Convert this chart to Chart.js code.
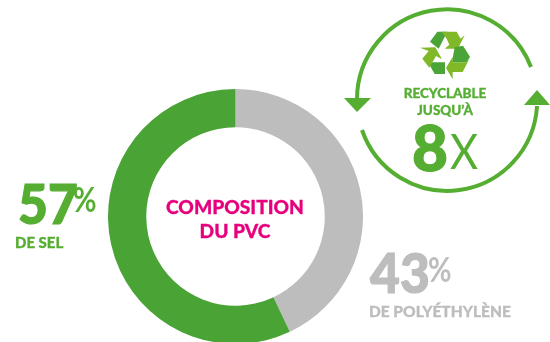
<!DOCTYPE html>
<html>
<head>
<meta charset="utf-8">
<script src="https://cdn.jsdelivr.net/npm/chart.js@4"></script>
<style>
  html, body { margin: 0; padding: 0; background: #fff; }
  #page { position: relative; width: 550px; height: 342px; overflow: hidden; font-family: Lato, sans-serif; }
  #donut { position: absolute; left: 108px; top: 89px; width: 255px; height: 255px; }
  #ring { position: absolute; left: 0; top: 0; }
  .txt { position: absolute; white-space: nowrap; line-height: 1; font-weight: 900; transform-origin: left top; }
  .heavy { -webkit-text-stroke: 1.2px currentColor; }
  .semi { -webkit-text-stroke: 0.3px currentColor; }
  .green { color: #55ae32; }
  .grey { color: #bcbdbc; }
  .pink { color: #e6007e; }
</style>
</head>
<body>
<div id="page">
  <div id="donut"><canvas id="pvcChart" width="255" height="255"></canvas></div>

  <!-- anneau et logo recyclage -->
  <svg id="ring" width="550" height="342">
    <g fill="none" stroke="#55ae32" stroke-width="4">
      <path d="M357 99 A90 90 0 0 1 531 67"/>
      <path d="M537 106 A90 90 0 0 1 362 130"/>
    </g>
    <polygon points="344,98 371,98 357,112" fill="#55ae32"/>
    <polygon points="524,105 550,105 537,90" fill="#55ae32"/>
    <g transform="translate(340 0) scale(0.3333)">
      <path d="M270 125 L292 95 L322 95 L296 146 Z" fill="#4aa437"/>
      <path d="M305 95 L350 95 L362 116 L374 105 L354 146 L314 146 L328 134 L320 116 Z" fill="#80b828"/>
      <path d="M344 142 L369 137 L390 170 L380 187 L336 187 Z" fill="#4aa437"/>
      <path d="M390 173 L368 216 L338 216 L338 238 L318 204 L338 170 L338 187 L380 187 Z" fill="#80b828"/>
      <path d="M264 187 L315 187 L315 222 L284 222 Z" fill="#4aa437"/>
      <path d="M240 143 L286 142 L306 178 L288 168 L268 203 L247 176 L266 153 Z" fill="#80b828"/>
    </g>
  </svg>

  <div class="txt green semi" style="left:395px;top:87px;font-size:13.5px;width:100px;text-align:center">RECYCLABLE</div>
  <div class="txt green semi" style="left:395px;top:104px;font-size:13.5px;width:100px;text-align:center">JUSQU’À</div>
  <div class="txt green heavy" style="left:412px;top:116px;font-size:62px">8</div>
  <div class="txt green" style="left:450px;top:127px;font-size:48px;font-weight:400;transform:scaleX(.9)">X</div>

  <div class="txt pink semi" style="left:155px;top:197px;width:160px;text-align:center;font-size:19.2px">COMPOSITION</div>
  <div class="txt pink semi" style="left:155px;top:221px;width:160px;text-align:center;font-size:19.2px">DU PVC</div>

  <div class="txt green heavy" style="left:18px;top:175px;font-size:56px;transform:scaleX(.92)">57</div>
  <div class="txt green" style="left:73px;top:181px;font-size:35px;font-weight:700;transform:scaleX(.82)">%</div>
  <div class="txt green semi" style="left:15px;top:235px;font-size:15px">DE SEL</div>

  <div class="txt grey heavy" style="left:370px;top:244px;font-size:56px;transform:scaleX(.92)">43</div>
  <div class="txt grey" style="left:428px;top:251px;font-size:35px;font-weight:700;transform:scaleX(.82)">%</div>
  <div class="txt grey semi" style="left:369px;top:304px;font-size:15.5px">DE POLYÉTHYLÈNE</div>
</div>

<script>
    // Composition du PVC
    const categories = ['Polyéthylène', 'Sel'];
    const values = [43, 57];
    const colors = ['#bcbdbc', '#49a335'];

    const ctx = document.getElementById('pvcChart').getContext('2d');
    new Chart(ctx, {
        type: 'doughnut',
        data: {
            labels: categories,
            datasets: [{
                data: values,
                backgroundColor: colors,
                borderWidth: 0
            }]
        },
        options: {
            responsive: false,
            animation: false,
            cutout: '70%',
            layout: { padding: 0 },
            plugins: {
                legend: { display: false },
                tooltip: { enabled: false }
            }
        }
    });
</script>
</body>
</html>
